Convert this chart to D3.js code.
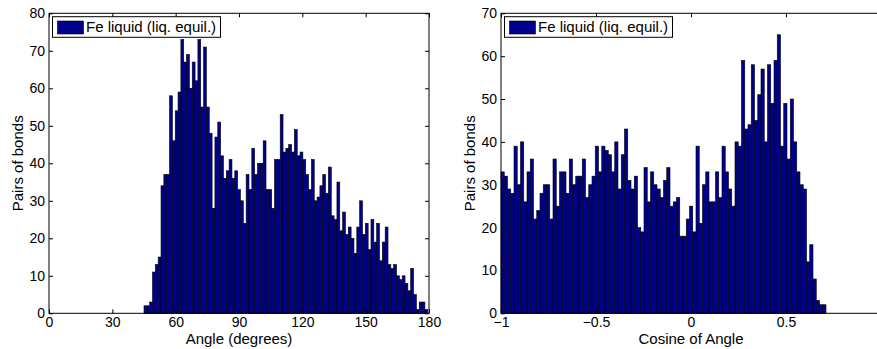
<!DOCTYPE html>
<html>
<head>
<meta charset="utf-8">
<script src="https://cdn.jsdelivr.net/npm/d3@7"></script>
<style>
  body { margin: 0; background: #fff; }
  svg { display: block; font-family: "Liberation Sans", Arial, Helvetica, sans-serif; }
  .tick text { font-size: 14px; fill: #000; }
  .tick line { stroke: #000; }
</style>
</head>
<body>
<svg id="chart" width="877" height="349"></svg>
<script>
// histogram counts, 100 bins each
const angleCounts = [
  2, 2, 3, 11, 13, 15, 34, 37, 37, 58,
  46, 54, 59, 73, 67, 69, 60, 67, 62, 73,
  55, 71, 55, 48, 28, 47, 51, 42, 36, 38,
  41, 36, 38, 33, 30, 24, 37, 33, 44, 37,
  40, 40, 46, 33, 33, 28, 41, 41, 53, 43,
  44, 45, 43, 49, 42, 43, 41, 37, 33, 41,
  30, 31, 34, 37, 32, 39, 26, 25, 35, 22,
  27, 21, 23, 20, 16, 23, 30, 21, 24, 17,
  25, 19, 24, 14, 19, 23, 13, 12, 13, 10,
  9, 10, 8, 6, 12, 5, 1, 3, 3, 1
];
const angleRange = [45.0, 179.4];
const angleTicks = [0, 30, 60, 90, 120, 150, 180];
const angleYTicks = [0, 10, 20, 30, 40, 50, 60, 70, 80];

const cosineCounts = [
  33, 32, 29, 28, 39, 30, 40, 26, 33, 36,
  22, 24, 28, 30, 30, 22, 36, 25, 33, 33,
  28, 36, 30, 32, 32, 36, 27, 30, 32, 39,
  33, 39, 38, 37, 33, 40, 29, 37, 43, 31,
  29, 32, 20, 19, 34, 26, 33, 30, 29, 27,
  31, 34, 25, 26, 27, 18, 18, 22, 25, 19,
  39, 21, 30, 33, 26, 26, 33, 27, 39, 33,
  29, 25, 40, 39, 59, 43, 44, 58, 45, 51,
  57, 40, 58, 49, 59, 65, 39, 49, 36, 50,
  40, 33, 30, 29, 12, 16, 8, 3, 2, 2
];
const cosineRange = [-1, 0.7105];
const cosineTicks = [-1, -0.5, 0, 0.5, 1];
const cosineYTicks = [0, 10, 20, 30, 40, 50, 60, 70];

const legendLabel = "Fe liquid (liq. equil.)";
const barColor = "#00008f";
const W = 877;

const svg = d3.select("#chart");

function drawPanel(opts) {
  const { counts, range, xDomain, xTicks, yMax, yTicks, left, right, xLabel } = opts;
  const top = 13.3, bottom = 313.3;
  const x = d3.scaleLinear().domain(xDomain).range([left, right]);
  const y = d3.scaleLinear().domain([0, yMax]).range([bottom, top]);
  const fmt = d3.format("~g");

  const n = counts.length;
  const w = (range[1] - range[0]) / n;
  const bins = counts.map((c, i) => ({ x0: range[0] + i * w, x1: range[0] + (i + 1) * w, c }));

  const g = svg.append("g");

  g.selectAll("rect.bar")
    .data(bins)
    .join("rect")
    .attr("class", "bar")
    .attr("x", d => x(d.x0))
    .attr("width", d => x(d.x1) - x(d.x0))
    .attr("y", d => y(d.c))
    .attr("height", d => y(0) - y(d.c))
    .attr("fill", barColor)
    .attr("stroke", "#000")
    .attr("stroke-width", 0.6);

  // ticks point inward, matlab style
  const bottomAxis = g.append("g")
    .attr("transform", `translate(0,${bottom})`)
    .call(d3.axisBottom(x).tickValues(xTicks).tickFormat(fmt).tickSize(-4).tickSizeOuter(0).tickPadding(4));
  g.append("g")
    .attr("transform", `translate(0,${top})`)
    .call(d3.axisTop(x).tickValues(xTicks).tickFormat("").tickSize(-4).tickSizeOuter(0));
  g.append("g")
    .attr("transform", `translate(${left},0)`)
    .call(d3.axisLeft(y).tickValues(yTicks).tickFormat(fmt).tickSize(-4).tickSizeOuter(0).tickPadding(4));
  g.append("g")
    .attr("transform", `translate(${right},0)`)
    .call(d3.axisRight(y).tickValues(yTicks).tickFormat("").tickSize(-4).tickSizeOuter(0));
  g.selectAll(".domain").remove();
  g.selectAll(".tick text").attr("font-family", null).attr("font-size", null);
  bottomAxis.selectAll("text").attr("dy", "0.71em");
  // labels that fall past the picture edge are not shown in the original
  bottomAxis.selectAll(".tick").filter(d => x(d) > W - 2).select("text").remove();

  g.append("rect")
    .attr("x", left).attr("y", top)
    .attr("width", right - left).attr("height", bottom - top)
    .attr("fill", "none").attr("stroke", "#000").attr("stroke-width", 1);

  // legend
  const lg = g.append("g").attr("transform", `translate(${left + 3.5},16.7)`);
  lg.append("rect").attr("width", 168).attr("height", 20.6)
    .attr("fill", "#fff").attr("stroke", "#000").attr("stroke-width", 1);
  lg.append("rect").attr("x", 5).attr("y", 4.3).attr("width", 26).attr("height", 13)
    .attr("fill", barColor).attr("stroke", "#000").attr("stroke-width", 0.6);
  lg.append("text").attr("x", 33.5).attr("y", 15.6)
    .attr("font-size", 15).text(legendLabel);

  g.append("text")
    .attr("x", (left + right) / 2).attr("y", 343.5)
    .attr("text-anchor", "middle").attr("font-size", 15)
    .text(xLabel);
  g.append("text")
    .attr("transform", `translate(${left - 26},${(top + bottom) / 2}) rotate(-90)`)
    .attr("text-anchor", "middle").attr("font-size", 15)
    .text("Pairs of bonds");
}

drawPanel({
  counts: angleCounts, range: angleRange, xDomain: [0, 180], xTicks: angleTicks,
  yMax: 80, yTicks: angleYTicks, left: 49, right: 429, xLabel: "Angle (degrees)"
});
drawPanel({
  counts: cosineCounts, range: cosineRange, xDomain: [-1, 1], xTicks: cosineTicks,
  yMax: 70, yTicks: cosineYTicks, left: 501, right: 881, xLabel: "Cosine of Angle"
});
</script>
</body>
</html>
